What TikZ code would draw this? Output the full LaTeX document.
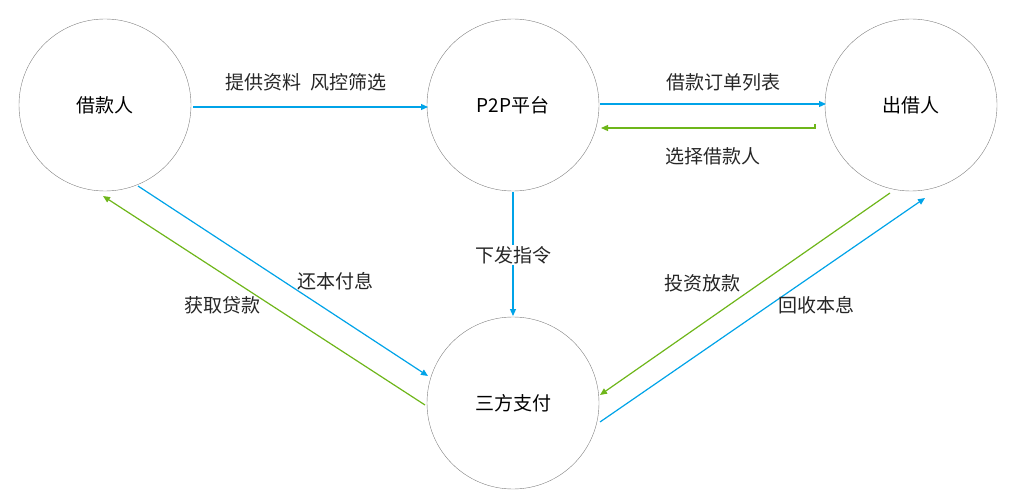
\documentclass[tikz,border=0pt]{standalone}
\usepackage{fontspec}
\setmainfont{Noto Sans CJK SC}
\usetikzlibrary{arrows.meta}
\definecolor{bl}{RGB}{0,163,232}
\definecolor{gr}{RGB}{110,182,26}
\begin{document}
\begin{tikzpicture}[x=1pt,y=-1pt,
  circ/.style={draw=black!50,circle,minimum size=172pt,inner sep=0pt,font=\fontsize{19}{22}\selectfont},
  lab/.style={font=\fontsize{19}{22}\selectfont,text=black!85},
  ba/.style={draw=bl,line width=1.2pt,-{Triangle[length=7pt,width=6pt]}},
  ga/.style={draw=gr,line width=1.2pt,-{Triangle[length=7pt,width=6pt]}}]
\useasboundingbox (0,0) rectangle (1022,497);
\node[circ] (j) at (105,105) {借款人};
\node[circ] (p) at (513,105) {P2P平台};
\node[circ] (c) at (911,105) {出借人};
\node[circ] (s) at (513,403) {三方支付};
\coordinate (a1) at (193,107); \coordinate (a2) at (428,107);
\draw[ba] (a1) -- (a2);
\node[lab] (l1) at (306,82) {提供资料\ \ 风控筛选};
\coordinate (b1) at (600,104); \coordinate (b2) at (826,104);
\draw[ba] (b1) -- (b2);
\node[lab] (l2) at (723,82) {借款订单列表};
\coordinate (g0) at (815,124); \coordinate (g2) at (601,128);
\draw[ga] (g0) |- (g2);
\node[lab] (l3) at (713,156) {选择借款人};
\coordinate (d1) at (513,192); \coordinate (d2) at (513,316);
\draw[ba] (d1) -- (d2);
\node[lab,fill=white,inner sep=1pt] (l4) at (513,255) {下发指令};
\coordinate (e1) at (138,186); \coordinate (e2) at (428,376);
\draw[ba] (e1) -- (e2);
\node[lab] (l5) at (335,281) {还本付息};
\coordinate (f1) at (425,405); \coordinate (f2) at (103,196);
\draw[ga] (f1) -- (f2);
\node[lab] (l6) at (222,305) {获取贷款};
\coordinate (h1) at (890,193); \coordinate (h2) at (600,395);
\draw[ga] (h1) -- (h2);
\node[lab] (l7) at (702,283) {投资放款};
\coordinate (k1) at (600,422); \coordinate (k2) at (925,198);
\draw[ba] (k1) -- (k2);
\node[lab] (l8) at (816,305) {回收本息};
\end{tikzpicture}
\end{document}
